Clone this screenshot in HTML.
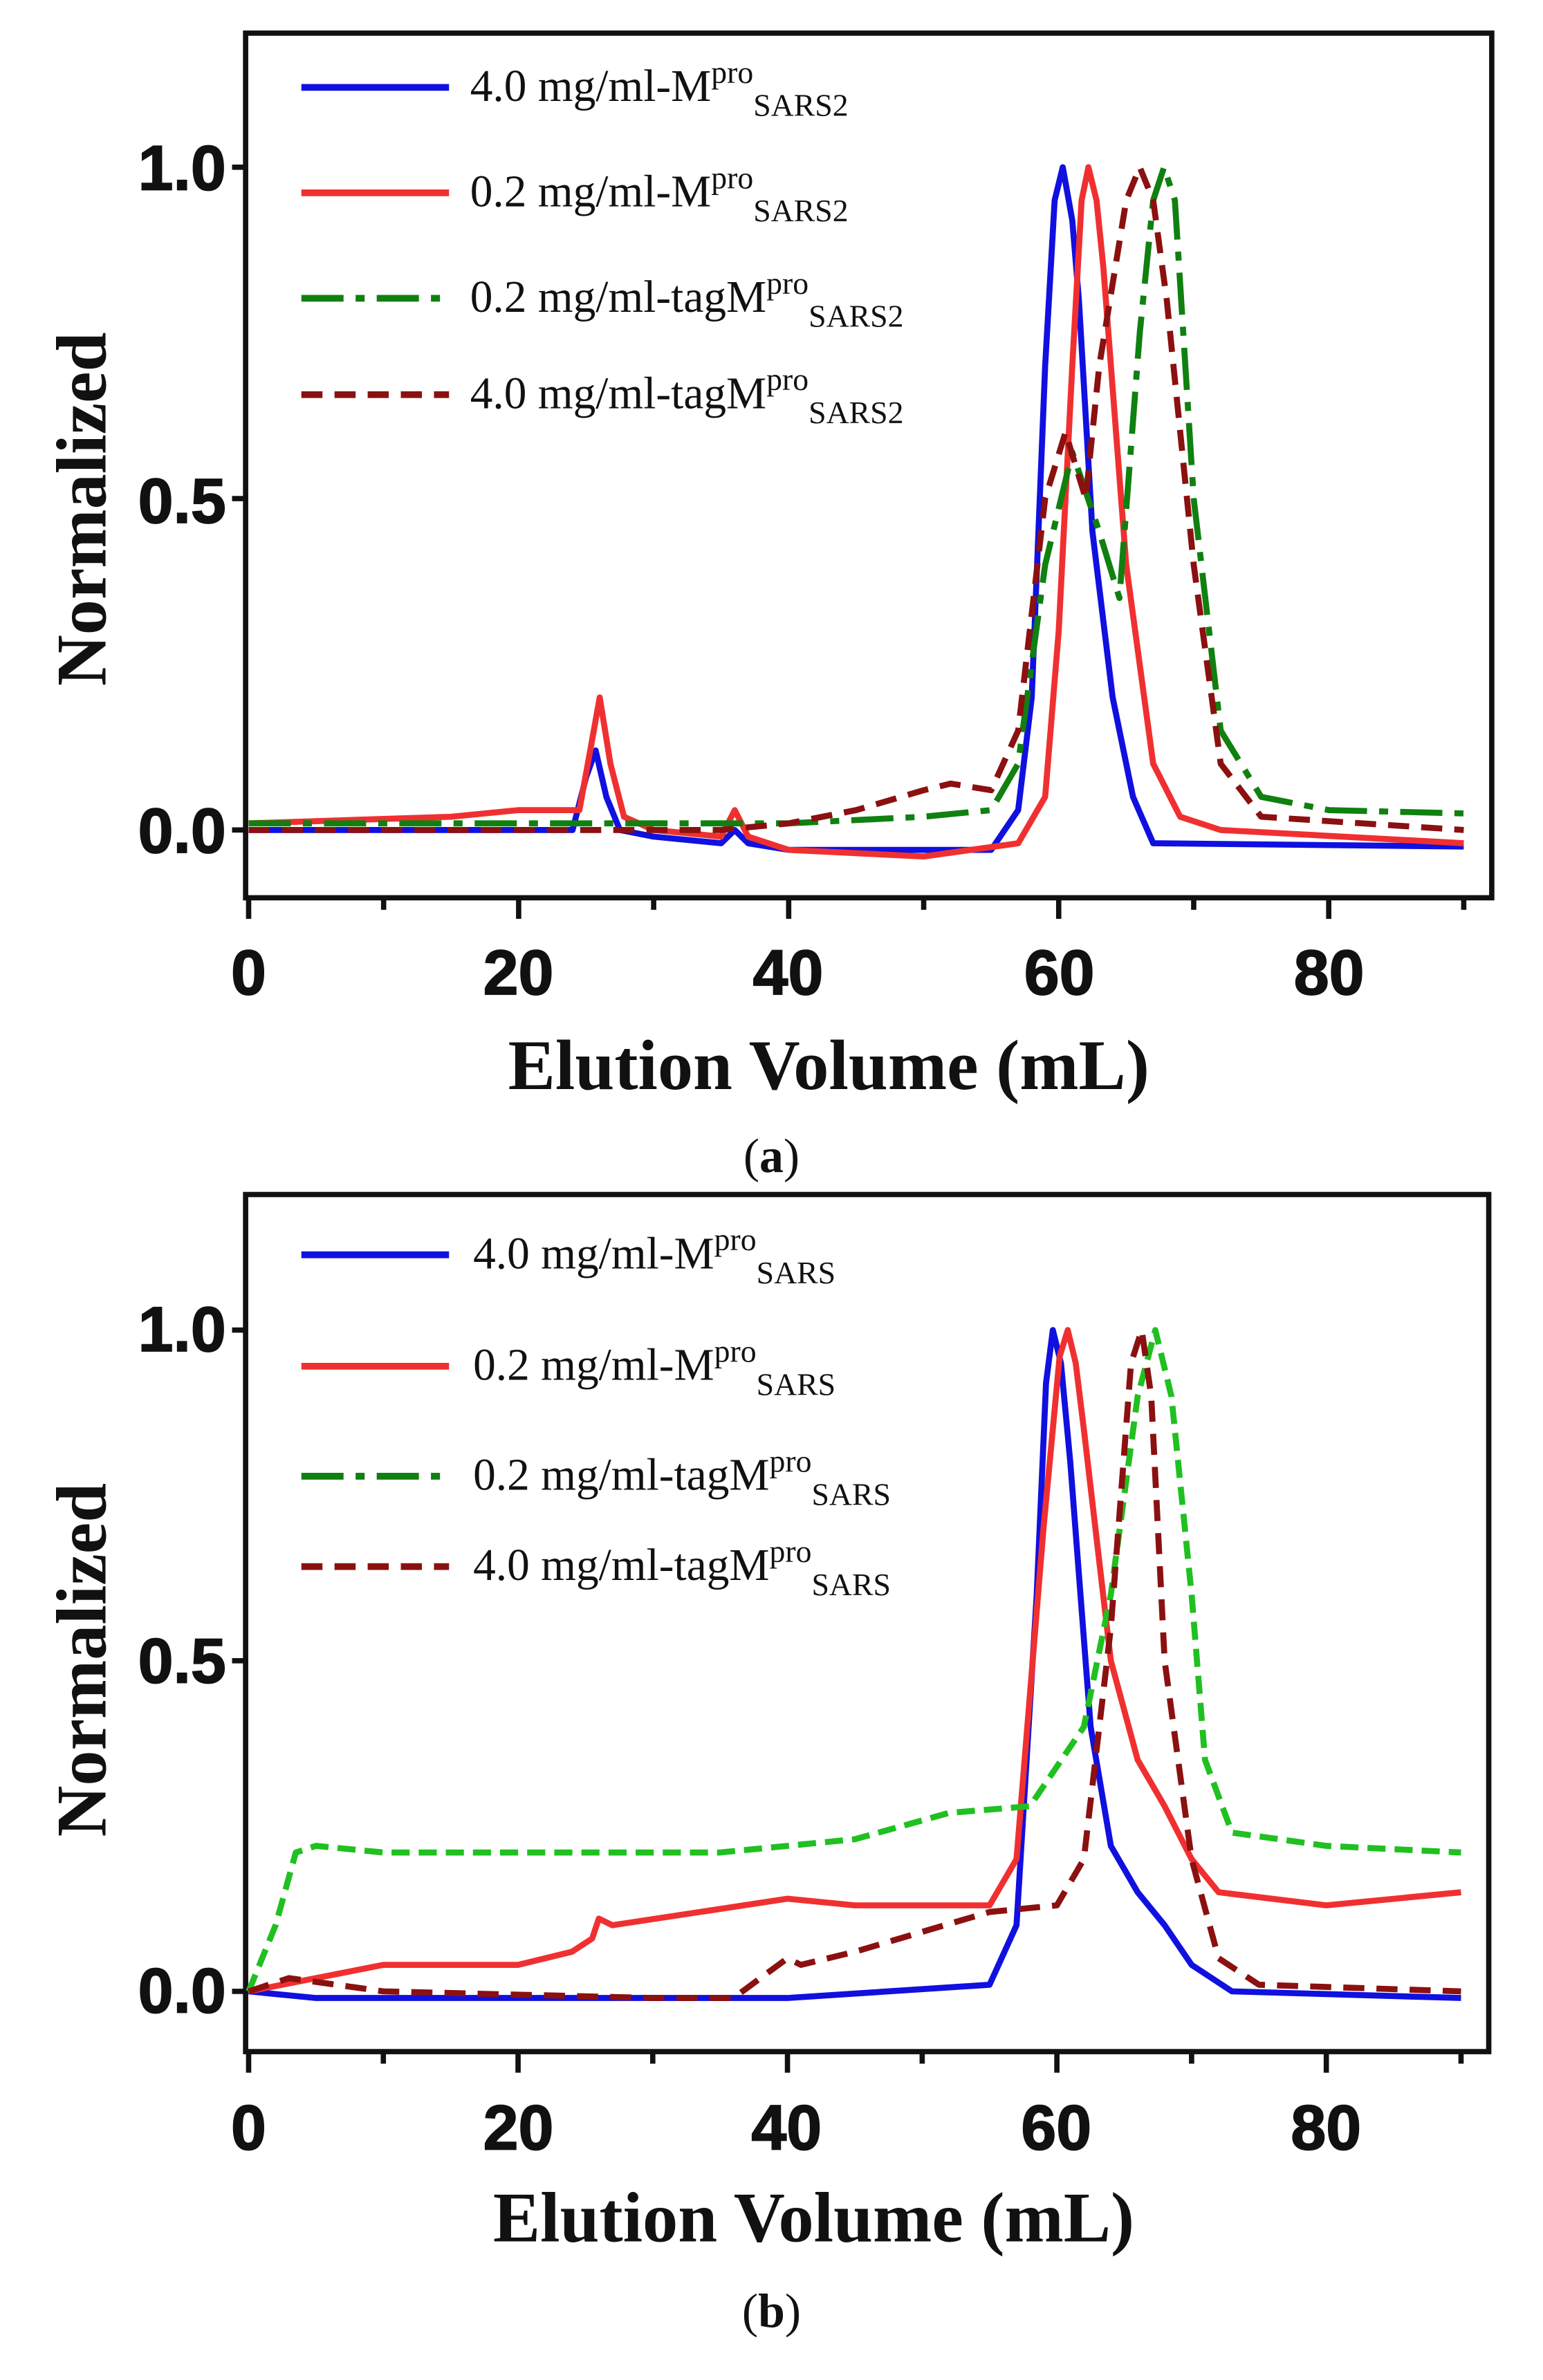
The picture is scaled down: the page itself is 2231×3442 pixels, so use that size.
<!DOCTYPE html>
<html><head><meta charset="utf-8"><style>
html,body{margin:0;padding:0;background:#fff;}
svg{display:block;}
.tk{font-family:"Liberation Sans",sans-serif;font-weight:bold;font-size:42px;fill:#111;stroke:#111;stroke-width:0.8px;}
.ax{font-family:"Liberation Serif",serif;font-weight:bold;font-size:47px;fill:#111;}
.lg{font-family:"Liberation Serif",serif;font-size:30px;fill:#111;}
.sub{font-size:21px;}
.cap{font-family:"Liberation Serif",serif;font-size:32px;fill:#111;}
</style></head><body>
<svg id="s" width="2231" height="3442" viewBox="0 0 1024 1580" preserveAspectRatio="none" xmlns="http://www.w3.org/2000/svg">
<rect width="1024" height="1580" fill="#fff"/>
<g id="g"></g>
<text class="tk" x="150" y="126" text-anchor="end">1.0</text>
<text class="tk" x="150" y="347" text-anchor="end">0.5</text>
<text class="tk" x="150" y="566" text-anchor="end">0.0</text>
<text class="tk" x="165" y="660" text-anchor="middle">0</text>
<text class="tk" x="344" y="660" text-anchor="middle">20</text>
<text class="tk" x="523" y="660" text-anchor="middle">40</text>
<text class="tk" x="703" y="660" text-anchor="middle">60</text>
<text class="tk" x="882" y="660" text-anchor="middle">80</text>
<text class="ax" x="550" y="723" text-anchor="middle">Elution Volume (mL)</text>
<text class="ax" transform="translate(70,338) rotate(-90)" text-anchor="middle">Normalized</text>
<text class="cap" x="512" y="778" text-anchor="middle">(<tspan font-weight="bold">a</tspan>)</text>
<text class="lg" x="312" y="67">4.0 mg/ml-M<tspan class="sub" dy="-12">pro</tspan><tspan class="sub" dy="22">SARS2</tspan></text>
<text class="lg" x="312" y="137">0.2 mg/ml-M<tspan class="sub" dy="-12">pro</tspan><tspan class="sub" dy="22">SARS2</tspan></text>
<text class="lg" x="312" y="207">0.2 mg/ml-tagM<tspan class="sub" dy="-12">pro</tspan><tspan class="sub" dy="22">SARS2</tspan></text>
<text class="lg" x="312" y="271">4.0 mg/ml-tagM<tspan class="sub" dy="-12">pro</tspan><tspan class="sub" dy="22">SARS2</tspan></text>
<text class="tk" x="150" y="897" text-anchor="end">1.0</text>
<text class="tk" x="150" y="1117" text-anchor="end">0.5</text>
<text class="tk" x="150" y="1336" text-anchor="end">0.0</text>
<text class="tk" x="165" y="1427" text-anchor="middle">0</text>
<text class="tk" x="344" y="1427" text-anchor="middle">20</text>
<text class="tk" x="522" y="1427" text-anchor="middle">40</text>
<text class="tk" x="701" y="1427" text-anchor="middle">60</text>
<text class="tk" x="880" y="1427" text-anchor="middle">80</text>
<text class="ax" x="540" y="1488" text-anchor="middle">Elution Volume (mL)</text>
<text class="ax" transform="translate(70,1102) rotate(-90)" text-anchor="middle">Normalized</text>
<text class="cap" x="512" y="1545" text-anchor="middle">(<tspan font-weight="bold">b</tspan>)</text>
<text class="lg" x="314" y="842">4.0 mg/ml-M<tspan class="sub" dy="-12">pro</tspan><tspan class="sub" dy="22">SARS</tspan></text>
<text class="lg" x="314" y="916">0.2 mg/ml-M<tspan class="sub" dy="-12">pro</tspan><tspan class="sub" dy="22">SARS</tspan></text>
<text class="lg" x="314" y="989">0.2 mg/ml-tagM<tspan class="sub" dy="-12">pro</tspan><tspan class="sub" dy="22">SARS</tspan></text>
<text class="lg" x="314" y="1049">4.0 mg/ml-tagM<tspan class="sub" dy="-12">pro</tspan><tspan class="sub" dy="22">SARS</tspan></text>
</svg>
<script>
var g=document.getElementById('g'),NS='http://www.w3.org/2000/svg';
function el(t,a){var e=document.createElementNS(NS,t);for(var k in a)e.setAttribute(k,a[k]);g.appendChild(e);return e;}
function panel(P){
  el('rect',{x:P.l,y:P.t,width:P.r-P.l,height:P.b-P.t,fill:'none',stroke:'#111','stroke-width':3.5});
  for(var v=0;v<=90;v+=10){var x=P.x0+P.sx*v;el('line',{x1:x,x2:x,y1:P.b,y2:P.b+(v%20==0?14:8),stroke:'#111','stroke-width':3.5});}
  [0,0.5,1].forEach(function(n){var y=P.y0-P.sy*n;el('line',{x1:P.l-9,x2:P.l,y1:y,y2:y,stroke:'#111','stroke-width':3.5});});
  P.series.forEach(function(s){
    var pts=s.d.map(function(p){return (P.x0+P.sx*p[0]).toFixed(1)+','+(P.y0-P.sy*p[1]).toFixed(1);}).join(' ');
    el('polyline',{points:pts,fill:'none',stroke:s.c,'stroke-width':4,'stroke-dasharray':s.da||'none','stroke-linejoin':'round'});
  });
  P.leg.forEach(function(L){el('line',{x1:200,x2:298,y1:L[0],y2:L[0],stroke:L[1],'stroke-width':4.5,'stroke-dasharray':L[2]||'none'});});
}
var DD='28 8 6 8',DA='14 8';
panel({l:163,t:22,r:990,b:596,x0:165,sx:8.96,y0:551,sy:440,
 leg:[[58,'#1010e0'],[128,'#f03030'],[198,'#108010',DD],[262,'#8b1010',DA]],
 series:[
 {c:'#1010e0',d:[[0,0],[24,0],[25,0.08],[25.7,0.12],[26.5,0.05],[27.5,0],[30,-0.01],[35,-0.02],[36,0],[37,-0.02],[40,-0.03],[55,-0.03],[57,0.03],[58,0.2],[59,0.7],[59.7,0.95],[60.3,1],[61,0.92],[61.5,0.8],[62.5,0.45],[64,0.2],[65.5,0.05],[67,-0.02],[90,-0.025]]},
 {c:'#f03030',d:[[0,0.01],[15,0.02],[20,0.03],[24.5,0.03],[25.3,0.12],[26,0.2],[26.8,0.1],[27.8,0.02],[30,0],[35,-0.01],[36,0.03],[37,-0.01],[40,-0.03],[50,-0.04],[57,-0.02],[59,0.05],[60,0.3],[61,0.7],[61.7,0.95],[62.2,1],[62.8,0.95],[63.3,0.85],[65,0.4],[67,0.1],[69,0.02],[72,0],[90,-0.02]]},
 {c:'#108010',da:DD,d:[[0,0.01],[30,0.01],[40,0.01],[50,0.02],[55,0.03],[57,0.1],[59,0.4],[61,0.57],[63,0.45],[64.5,0.35],[66,0.75],[67,0.95],[67.8,1],[68.6,0.95],[70,0.5],[72,0.15],[75,0.05],[80,0.03],[90,0.025]]},
 {c:'#8b1010',da:DA,d:[[0,0],[35,0],[40,0.01],[45,0.03],[50,0.06],[52,0.07],[55,0.06],[57,0.15],[59,0.5],[60.5,0.6],[62,0.5],[63,0.7],[65,0.95],[66,1],[67,0.95],[68,0.8],[70,0.4],[72,0.1],[75,0.02],[90,0]]}
 ]});
panel({l:163,t:793,r:988,b:1362,x0:165,sx:8.94,y0:1322,sy:439,
 leg:[[833,'#1010e0'],[907,'#f03030'],[980,'#108010',DD],[1040,'#8b1010',DA]],
 series:[
 {c:'#1010e0',d:[[0,0],[5,-0.01],[40,-0.01],[55,0.01],[57,0.1],[58.5,0.6],[59.2,0.92],[59.7,1],[60.3,0.95],[61,0.8],[62.5,0.4],[64,0.22],[66,0.15],[68,0.1],[70,0.04],[73,0],[90,-0.01]]},
 {c:'#f03030',d:[[0,0],[5,0.02],[10,0.04],[20,0.04],[24,0.06],[25.5,0.08],[26,0.11],[27,0.1],[40,0.14],[45,0.13],[55,0.13],[57,0.2],[59,0.7],[60.2,0.96],[60.8,1],[61.4,0.95],[62,0.85],[64,0.5],[66,0.35],[68,0.28],[70,0.2],[72,0.15],[80,0.13],[90,0.15]]},
 {c:'#20c020',da:'12 6',d:[[0,0],[2,0.1],[3.5,0.21],[5,0.22],[10,0.21],[20,0.21],[35,0.21],[45,0.23],[52,0.27],[58,0.28],[62,0.4],[64,0.6],[66,0.9],[67.3,1],[68.5,0.9],[70,0.6],[71,0.35],[73,0.24],[80,0.22],[90,0.21]]},
 {c:'#8b1010',da:DA,d:[[0,0],[3,0.02],[10,0],[30,-0.01],[36,-0.01],[38,0.02],[40,0.05],[41,0.04],[45,0.06],[50,0.09],[55,0.12],[60,0.13],[62,0.2],[64,0.55],[65.5,0.95],[66.3,1],[67,0.9],[68,0.5],[70,0.2],[72,0.05],[75,0.01],[90,0]]}
 ]});
</script>
</body></html>
